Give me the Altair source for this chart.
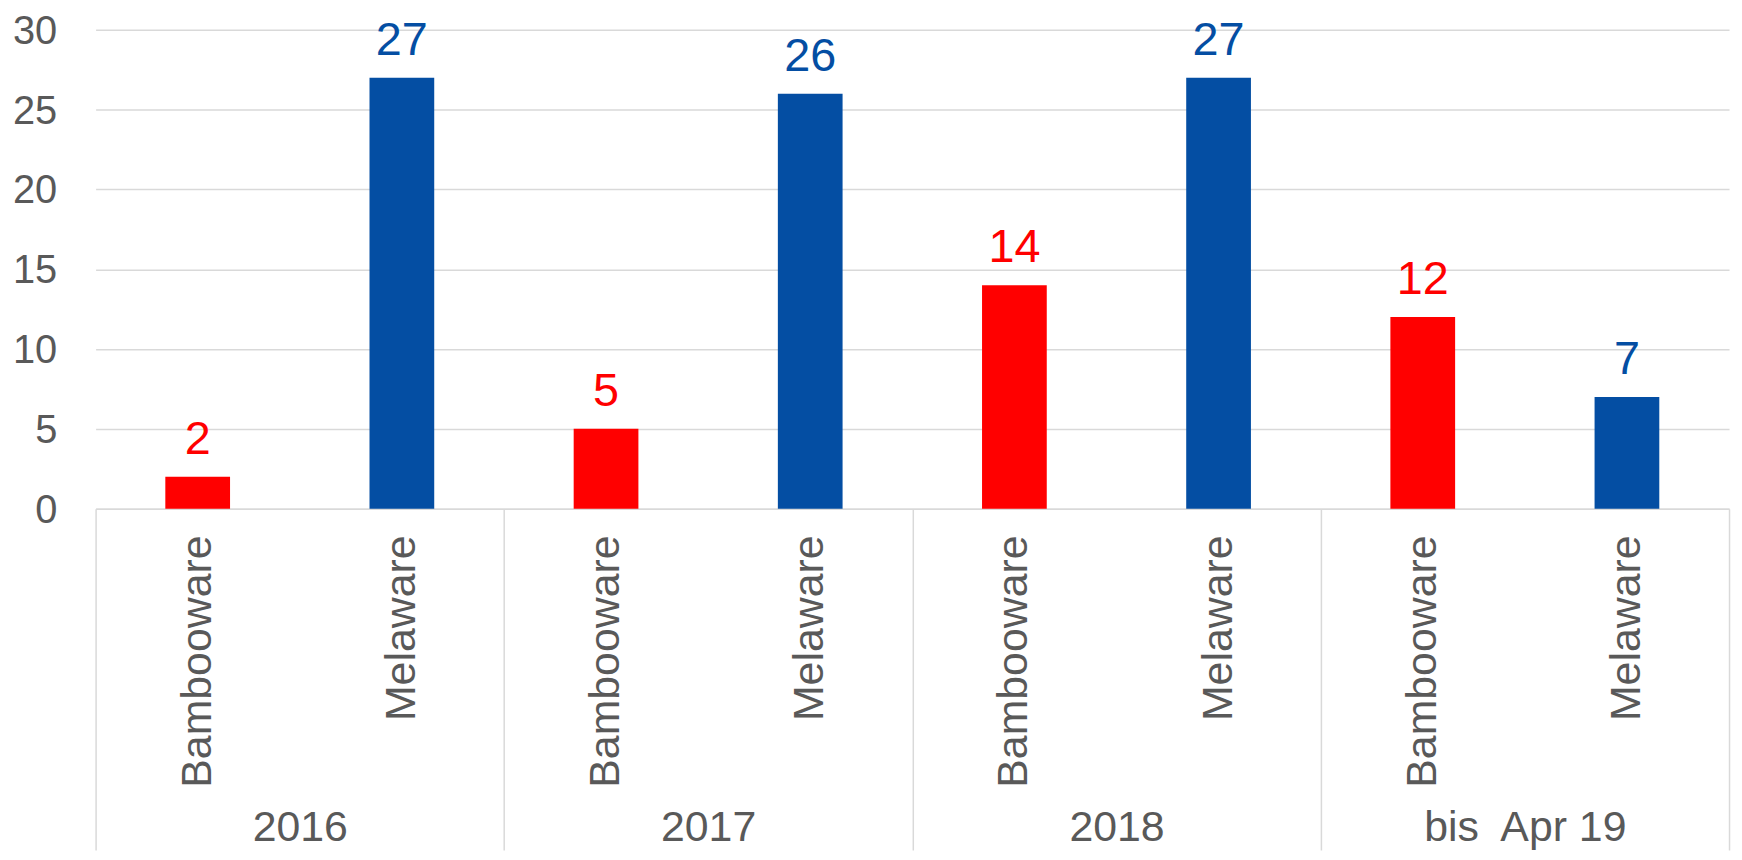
import altair as alt
import pandas as pd

years = ["2016", "2017", "2018", "bis\u00a0 Apr 19"]
products = ["Bambooware", "Melaware"]
bambooware = [2, 5, 14, 12]
melaware = [27, 26, 27, 7]
y_ticks = [0, 5, 10, 15, 20, 25, 30]

rows = []
for i, yr in enumerate(years):
    rows.append({"year": yr, "product": "Bambooware", "value": bambooware[i]})
    rows.append({"year": yr, "product": "Melaware", "value": melaware[i]})
df = pd.DataFrame(rows)

FONT = "Liberation Sans"
GRAY = "#595959"
LINE = "#d9d9d9"

x_enc = alt.X(
    "year:N",
    sort=years,
    scale=alt.Scale(paddingInner=0, paddingOuter=0),
    axis=alt.Axis(
        title=None,
        labelAngle=0,
        labelFont=FONT,
        labelFontSize=43,
        labelColor=GRAY,
        labelBaseline="alphabetic",
        labelPadding=-10,
        labelLimit=0,
        tickBand="extent",
        tickSize=343,
        tickColor=LINE,
        tickWidth=1.5,
        domainColor=LINE,
        domainWidth=1.5,
        grid=False,
    ),
)
xo_enc = alt.XOffset(
    "product:N",
    sort=products,
    scale=alt.Scale(paddingInner=0.683, paddingOuter=0.3415),
)
color_enc = alt.Color(
    "product:N",
    scale=alt.Scale(domain=products, range=["#ff0000", "#044ea3"]),
    legend=None,
)

base = alt.Chart(df)

bars = base.mark_bar().encode(
    x=x_enc,
    xOffset=xo_enc,
    y=alt.Y(
        "value:Q",
        scale=alt.Scale(domain=[0, 30], nice=False),
        axis=alt.Axis(
            title=None,
            values=y_ticks,
            labelFont=FONT,
            labelFontSize=40,
            labelColor=GRAY,
            labelPadding=39,
            labelOffset=1.5,
            ticks=False,
            domain=False,
            grid=True,
            gridColor=LINE,
            gridWidth=1.5,
        ),
    ),
    color=color_enc,
)

values = base.mark_text(
    font=FONT, fontSize=47, baseline="alphabetic", dy=-23
).encode(
    x=x_enc,
    xOffset=xo_enc,
    y="value:Q",
    text="value:Q",
    color=color_enc,
)

prod_labels = base.mark_text(
    font=FONT, fontSize=43, angle=270, align="right", baseline="middle", color=GRAY
).encode(
    x=x_enc,
    xOffset=xo_enc,
    y=alt.value(508),
    text="product:N",
)

chart = alt.layer(bars, values, prod_labels).properties(
    width=1641,
    height=481,
    autosize=alt.AutoSizeParams(type="none"),
    padding={"left": 88, "top": 20, "right": 5, "bottom": 343},
).configure_view(stroke=None)

chart.save("out.html", embed_options={"renderer": "svg", "actions": False})
